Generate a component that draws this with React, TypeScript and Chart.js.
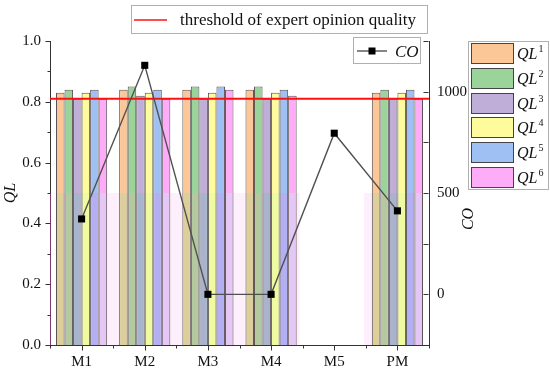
import React, { useEffect, useRef } from 'react';
import { Chart, registerables } from 'chart.js';

Chart.register(...registerables);

// ---------- data ----------
const categories = ['M1', 'M2', 'M3', 'M4', 'M5', 'PM'];
const ql1 = [0.83, 0.84, 0.84, 0.84, null, 0.83];
const ql2 = [0.84, 0.85, 0.85, 0.85, null, 0.84];
const ql3 = [0.81, 0.82, 0.81, 0.81, null, 0.81];
const ql4 = [0.83, 0.83, 0.83, 0.83, null, 0.83];
const ql5 = [0.84, 0.84, 0.85, 0.84, null, 0.84];
const ql6 = [0.81, 0.81, 0.84, 0.82, null, 0.81];
const coValues = [372, 1130, 0, 0, 795, 412];
const threshold = 0.81;
const qlTickLabels = [0, 0.2, 0.4, 0.6, 0.8, 1.0];
const coTickLabels = [0, 500, 1000];
const seriesNums = ['1', '2', '3', '4', '5', '6'];
const thresholdLabel = 'threshold of expert opinion quality';
const coLabel = 'CO';
const qlLabel = 'QL';

// ---------- styles ----------
const FONT = '"Liberation Serif", "Times New Roman", serif';
const topColors = ['#fcc796', '#9ad49b', '#bfaed8', '#fdfb9c', '#9fc0f2', '#fdacf8'];
const lowColors = ['#dccf99', '#b4c99f', '#a8b4cc', '#eefb9e', '#b2b0f3', '#e4c7f5'];
const SPLIT = 0.5;

function splitFill(top: string, low: string) {
  return (ctx: any) => {
    const chart = ctx.chart;
    const area = chart.chartArea;
    if (!area || !chart.scales.y) return top;
    const yb = chart.scales.y.getPixelForValue(SPLIT);
    const g = chart.ctx.createLinearGradient(0, area.top, 0, area.bottom);
    const t = Math.min(1, Math.max(0, (yb - area.top) / (area.bottom - area.top)));
    g.addColorStop(0, top);
    g.addColorStop(t, top);
    g.addColorStop(t, low);
    g.addColorStop(1, low);
    return g;
  };
}

const decorPlugin = {
  id: 'decor',
  beforeDatasetsDraw(chart: any) {
    const { ctx, chartArea, scales } = chart;
    const xs = scales.x;
    const cw = (chartArea.right - chartArea.left) / categories.length;
    const half = (cw * 0.81) / 2;
    const yTop = scales.y.getPixelForValue(SPLIT);
    const yBot = chartArea.bottom;
    ctx.save();
    ctx.fillStyle = '#fdf0fc';
    const x1 = xs.getPixelForValue(0) - half;
    const x2 = xs.getPixelForValue(3) + half + 3;
    ctx.fillRect(x1, yTop, x2 - x1, yBot - yTop);
    const x3 = xs.getPixelForValue(5) - half - 8;
    const x4 = xs.getPixelForValue(5) + half;
    ctx.fillRect(x3, yTop, x4 - x3, yBot - yTop);
    ctx.restore();
  },
  beforeDatasetDraw(chart: any, args: any) {
    if (args.index !== 6) return;
    const { ctx, chartArea, scales } = chart;
    const y = scales.y.getPixelForValue(threshold);
    ctx.save();
    ctx.strokeStyle = '#ff1010';
    ctx.lineWidth = 2;
    ctx.beginPath();
    ctx.moveTo(chartArea.left, y);
    ctx.lineTo(chartArea.right, y);
    ctx.stroke();
    ctx.restore();
  },
  afterDraw(chart: any) {
    const { ctx, chartArea, scales } = chart;
    const L = Math.round(chartArea.left) + 0.5;
    const R = Math.round(chartArea.right) - 0.5;
    const B = Math.round(chartArea.bottom) + 0.5;
    ctx.save();
    // left axis lower portion tint
    ctx.strokeStyle = '#7d3a6a';
    ctx.lineWidth = 1;
    ctx.beginPath();
    ctx.moveTo(L, scales.y.getPixelForValue(SPLIT));
    ctx.lineTo(L, chartArea.bottom);
    ctx.stroke();

    ctx.strokeStyle = '#333';
    ctx.lineWidth = 1;
    ctx.beginPath();
    // left ticks (outward)
    for (let i = 0; i <= 10; i++) {
      const y = Math.round(scales.y.getPixelForValue(i / 10)) + 0.5;
      const len = i % 2 === 0 ? 5 : 3;
      ctx.moveTo(L - len, y);
      ctx.lineTo(L, y);
    }
    // right ticks (inward)
    for (let v = -250; v <= 1250; v += 250) {
      const y = Math.round(scales.y1.getPixelForValue(v)) + 0.5;
      ctx.moveTo(R - 5, y);
      ctx.lineTo(R, y);
    }
    // x ticks
    const cw = (chartArea.right - chartArea.left) / categories.length;
    for (let i = 0; i < categories.length; i++) {
      const x = Math.round(scales.x.getPixelForValue(i)) + 0.5;
      ctx.moveTo(x, B);
      ctx.lineTo(x, B + 5);
    }
    for (let i = 0; i <= categories.length; i++) {
      const x = Math.round(chartArea.left + i * cw) + 0.5;
      ctx.moveTo(x, B);
      ctx.lineTo(x, B + 3);
    }
    ctx.stroke();

    // axis titles
    ctx.fillStyle = '#111';
    ctx.font = `italic 16px ${FONT}`;
    ctx.textAlign = 'center';
    ctx.textBaseline = 'middle';
    ctx.save();
    ctx.translate(11, (chartArea.top + chartArea.bottom) / 2);
    ctx.rotate(-Math.PI / 2);
    ctx.fillText(qlLabel, 0, 0);
    ctx.restore();
    ctx.save();
    ctx.translate(469, 219);
    ctx.rotate(-Math.PI / 2);
    ctx.fillText(coLabel, 0, 0);
    ctx.restore();

    // top legend (threshold)
    ctx.textAlign = 'left';
    ctx.textBaseline = 'alphabetic';
    ctx.fillStyle = '#fff';
    ctx.strokeStyle = '#b0b0b0';
    ctx.lineWidth = 1;
    ctx.fillRect(131.5, 5.5, 296, 28);
    ctx.strokeRect(131.5, 5.5, 296, 28);
    ctx.strokeStyle = '#ff1010';
    ctx.lineWidth = 1.5;
    ctx.beginPath();
    ctx.moveTo(134, 20);
    ctx.lineTo(167, 20);
    ctx.stroke();
    ctx.fillStyle = '#111';
    ctx.font = `17px ${FONT}`;
    ctx.fillText(thresholdLabel, 180, 25);

    // CO legend
    ctx.fillStyle = '#fff';
    ctx.strokeStyle = '#b0b0b0';
    ctx.lineWidth = 1;
    ctx.fillRect(353.5, 37.5, 67, 26);
    ctx.strokeRect(353.5, 37.5, 67, 26);
    ctx.strokeStyle = '#444';
    ctx.lineWidth = 1.3;
    ctx.beginPath();
    ctx.moveTo(357, 51);
    ctx.lineTo(387, 51);
    ctx.stroke();
    ctx.fillStyle = '#000';
    ctx.fillRect(368.5, 47.5, 7, 7);
    ctx.fillStyle = '#111';
    ctx.font = `italic 17px ${FONT}`;
    ctx.fillText(coLabel, 395, 57);

    // QL legend
    ctx.fillStyle = '#fff';
    ctx.strokeStyle = '#b0b0b0';
    ctx.lineWidth = 1;
    ctx.fillRect(468.5, 41.5, 80, 148);
    ctx.strokeRect(468.5, 41.5, 80, 148);
    for (let i = 0; i < 6; i++) {
      const top = 43 + i * 24.8;
      ctx.fillStyle = topColors[i];
      ctx.fillRect(471.5, Math.round(top) + 0.5, 42, 20);
      ctx.strokeStyle = '#444';
      ctx.strokeRect(471.5, Math.round(top) + 0.5, 42, 20);
      ctx.fillStyle = '#111';
      ctx.font = `italic 16px ${FONT}`;
      const base = Math.round(top) + 16;
      ctx.fillText(qlLabel, 517, base);
      const w = ctx.measureText(qlLabel).width;
      ctx.font = `10px ${FONT}`;
      ctx.fillText(seriesNums[i], 517 + w + 1, base - 7);
    }
    ctx.restore();
  },
};

export default function App() {
  const ref = useRef<HTMLCanvasElement | null>(null);

  useEffect(() => {
    if (!ref.current) return;
    Chart.defaults.font.family = FONT;
    Chart.defaults.font.size = 15;
    Chart.defaults.color = '#111';
    const qlSeries = [ql1, ql2, ql3, ql4, ql5, ql6];
    const barSets = qlSeries.map((d, i) => ({
      type: 'bar' as const,
      label: qlLabel + seriesNums[i],
      data: d,
      yAxisID: 'y',
      backgroundColor: splitFill(topColors[i], lowColors[i]),
      borderColor: '#5e5458',
      borderWidth: 1,
      barPercentage: 1.0,
      categoryPercentage: 0.81,
      order: 1,
    }));
    const lineSet = {
      type: 'line' as const,
      label: coLabel,
      data: coValues,
      yAxisID: 'y1',
      borderColor: '#505050',
      borderWidth: 1.4,
      pointStyle: 'rect',
      pointRadius: 5,
      pointBackgroundColor: '#000',
      pointBorderColor: '#000',
      pointBorderWidth: 0,
      tension: 0,
      order: 0,
    };
    const border = { display: true, color: '#333', width: 1 };
    const chart = new Chart(ref.current, {
      data: { labels: categories, datasets: [...barSets, lineSet] as any },
      options: {
        responsive: false,
        animation: false,
        layout: { padding: { top: 41, left: 0, right: 0, bottom: 0 } },
        plugins: { legend: { display: false }, tooltip: { enabled: false } },
        scales: {
          x: {
            offset: true,
            grid: { display: false, drawTicks: false },
            border,
            ticks: { padding: 8, font: { size: 15 }, color: '#111' },
            afterFit: (s: any) => { s.height = 29; },
          },
          y: {
            position: 'left',
            min: 0,
            max: 1,
            grid: { display: false, drawTicks: false },
            border,
            ticks: {
              stepSize: 0.1,
              autoSkip: false,
              padding: 9,
              color: '#111',
              callback: (v: any) => qlTickLabels.some((t) => Math.abs(t - v) < 1e-6) ? Number(v).toFixed(1) : '',
            },
            afterFit: (s: any) => { s.width = 50; },
          },
          y1: {
            position: 'right',
            min: -250,
            max: 1250,
            grid: { display: false, drawTicks: false },
            border,
            ticks: {
              stepSize: 250,
              autoSkip: false,
              padding: 8,
              color: '#111',
              callback: (v: any) => coTickLabels.includes(Number(v)) ? String(v) : '',
            },
            afterFit: (s: any) => { s.width = 121; },
          },
        },
      } as any,
      plugins: [decorPlugin],
    });
    return () => chart.destroy();
  }, []);

  return (
    <div style={{ position: 'absolute', left: 0, top: 0, width: 550, height: 374, background: '#fff' }}>
      <canvas ref={ref} width={550} height={374} style={{ display: 'block' }} />
    </div>
  );
}
